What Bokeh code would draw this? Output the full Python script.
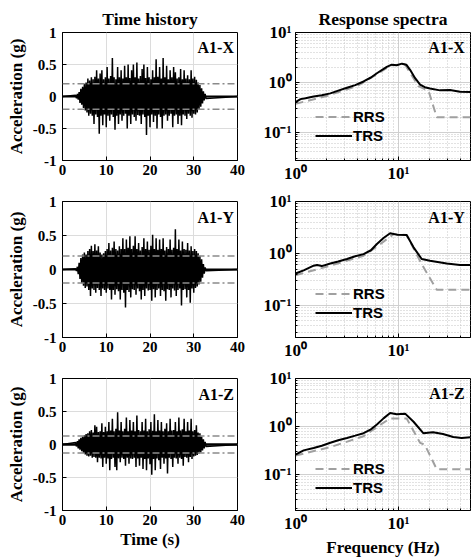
import numpy as np
from bokeh.plotting import figure
from bokeh.layouts import column, row
from bokeh.models import (Range1d, FixedTicker, CustomJSTickFormatter, Legend,
                          LegendItem, Label, Span)
from bokeh.embed import file_html
from bokeh.resources import INLINE

# ---------------- data ----------------
components = ["A1-X", "A1-Y", "A1-Z"]
th_start = 3.0      # first peak time (s)
th_step = 0.4       # spacing between successive positive peaks (s)
th_end = 40.0
thresholds = [0.2, 0.2, 0.13]

pos_x = [0.02, 0.04, 0.07, 0.12, 0.15, 0.20, 0.22, 0.28, 0.25, 0.30,
         0.27, 0.31, 0.41, 0.28, 0.36, 0.41, 0.27, 0.30, 0.46, 0.28,
         0.32, 0.60, 0.30, 0.27, 0.46, 0.30, 0.41, 0.28, 0.48, 0.30,
         0.50, 0.29, 0.41, 0.50, 0.30, 0.53, 0.28, 0.32, 0.43, 0.50,
         0.29, 0.46, 0.30, 0.27, 0.41, 0.30, 0.58, 0.31, 0.46, 0.28,
         0.60, 0.30, 0.48, 0.27, 0.41, 0.30, 0.46, 0.38, 0.28, 0.30,
         0.43, 0.27, 0.41, 0.28, 0.33, 0.27, 0.41, 0.28, 0.31, 0.26,
         0.22, 0.18, 0.13, 0.08, 0.04]
neg_x = [-0.03, -0.05, -0.10, -0.13, -0.18, -0.22, -0.25, -0.30, -0.27, -0.30,
         -0.43, -0.28, -0.32, -0.58, -0.30, -0.45, -0.28, -0.48, -0.30, -0.38,
         -0.28, -0.32, -0.52, -0.30, -0.43, -0.28, -0.38, -0.30, -0.27, -0.50,
         -0.30, -0.43, -0.28, -0.32, -0.38, -0.29, -0.30, -0.43, -0.28, -0.32,
         -0.60, -0.30, -0.48, -0.28, -0.40, -0.30, -0.50, -0.28, -0.32, -0.50,
         -0.30, -0.28, -0.38, -0.30, -0.27, -0.48, -0.30, -0.28, -0.43, -0.30,
         -0.45, -0.28, -0.30, -0.35, -0.27, -0.30, -0.33, -0.27, -0.28, -0.25,
         -0.20, -0.16, -0.11, -0.06, -0.03]

pos_y = [0.01, 0.04, 0.10, 0.17, 0.22, 0.25, 0.22, 0.27, 0.30, 0.35,
         0.27, 0.37, 0.28, 0.34, 0.25, 0.22, 0.24, 0.27, 0.30, 0.39,
         0.28, 0.32, 0.41, 0.30, 0.28, 0.34, 0.30, 0.46, 0.30, 0.44,
         0.32, 0.49, 0.30, 0.35, 0.49, 0.30, 0.39, 0.28, 0.33, 0.46,
         0.30, 0.41, 0.29, 0.35, 0.51, 0.30, 0.46, 0.29, 0.44, 0.30,
         0.46, 0.28, 0.33, 0.30, 0.44, 0.29, 0.32, 0.59, 0.30, 0.44,
         0.28, 0.41, 0.30, 0.29, 0.39, 0.28, 0.34, 0.27, 0.30, 0.27,
         0.24, 0.20, 0.15, 0.08, 0.03]
neg_y = [-0.02, -0.07, -0.14, -0.20, -0.24, -0.27, -0.25, -0.30, -0.39, -0.28,
         -0.30, -0.34, -0.27, -0.30, -0.39, -0.28, -0.30, -0.34, -0.28, -0.30,
         -0.44, -0.30, -0.37, -0.29, -0.32, -0.44, -0.30, -0.34, -0.56, -0.30,
         -0.33, -0.41, -0.29, -0.30, -0.37, -0.28, -0.32, -0.44, -0.30, -0.39,
         -0.28, -0.31, -0.30, -0.46, -0.29, -0.41, -0.30, -0.28, -0.39, -0.30,
         -0.32, -0.46, -0.29, -0.30, -0.41, -0.28, -0.31, -0.39, -0.30, -0.28,
         -0.53, -0.30, -0.29, -0.41, -0.30, -0.49, -0.28, -0.34, -0.27, -0.25,
         -0.22, -0.18, -0.12, -0.06, -0.02]

pos_z = [0.03, 0.05, 0.08, 0.10, 0.12, 0.14, 0.16, 0.17, 0.20, 0.22,
         0.18, 0.29, 0.27, 0.19, 0.20, 0.32, 0.19, 0.27, 0.20, 0.34,
         0.21, 0.39, 0.20, 0.24, 0.49, 0.21, 0.34, 0.20, 0.24, 0.41,
         0.20, 0.37, 0.21, 0.34, 0.20, 0.44, 0.22, 0.20, 0.34, 0.21,
         0.39, 0.20, 0.23, 0.34, 0.21, 0.46, 0.20, 0.37, 0.21, 0.34,
         0.20, 0.24, 0.32, 0.20, 0.39, 0.21, 0.22, 0.34, 0.20, 0.41,
         0.21, 0.23, 0.39, 0.20, 0.34, 0.21, 0.39, 0.20, 0.22, 0.29,
         0.18, 0.17, 0.12, 0.08, 0.04]
neg_z = [-0.03, -0.06, -0.08, -0.10, -0.13, -0.15, -0.17, -0.18, -0.17, -0.20,
         -0.19, -0.20, -0.27, -0.20, -0.21, -0.34, -0.20, -0.29, -0.21, -0.39,
         -0.22, -0.20, -0.34, -0.39, -0.21, -0.27, -0.20, -0.22, -0.32, -0.20,
         -0.29, -0.21, -0.22, -0.20, -0.34, -0.21, -0.32, -0.20, -0.37, -0.22,
         -0.39, -0.21, -0.30, -0.46, -0.22, -0.39, -0.21, -0.24, -0.37, -0.20,
         -0.29, -0.21, -0.44, -0.20, -0.22, -0.34, -0.20, -0.21, -0.29, -0.20,
         -0.22, -0.32, -0.19, -0.20, -0.27, -0.19, -0.22, -0.18, -0.17, -0.16,
         -0.14, -0.12, -0.09, -0.06, -0.03]

# response spectra (frequency Hz, spectral acceleration g)
trs_x_f = [1.0, 1.12, 1.25, 1.5, 1.8, 2.18, 2.6, 3.16, 3.8, 4.58, 5.4, 6.17,
           7.0, 7.7, 8.6, 9.6, 10.8, 11.9, 13.0, 14.5, 16.2, 18.0, 20.2, 25.3,
           31.6, 39.5, 50.0]
trs_x_a = [0.40, 0.46, 0.48, 0.52, 0.55, 0.60, 0.68, 0.78, 0.88, 1.04, 1.25, 1.52,
           1.80, 2.04, 2.26, 2.20, 2.37, 2.26, 1.76, 1.21, 0.90, 0.80, 0.75, 0.69,
           0.70, 0.65, 0.64]
rrs_x_f = [1.0, 2.0, 4.0, 6.0, 8.5, 11.5, 15.6, 19.6, 23.5, 50.0]
rrs_x_a = [0.37, 0.53, 0.85, 1.40, 2.20, 2.30, 0.84, 0.67, 0.20, 0.20]

trs_y_f = [1.0, 1.2, 1.5, 1.62, 1.8, 2.18, 2.6, 3.16, 3.8, 4.58, 5.4, 6.17,
           7.2, 8.3, 9.6, 12.0, 14.0, 16.8, 20.2, 29.4, 39.5, 50.0]
trs_y_a = [0.41, 0.47, 0.58, 0.60, 0.57, 0.64, 0.70, 0.78, 0.88, 0.97, 1.15, 1.52,
           2.00, 2.44, 2.30, 2.26, 1.31, 0.78, 0.72, 0.64, 0.60, 0.60]
rrs_y_f = [1.0, 2.18, 4.58, 6.17, 9.0, 12.0, 16.8, 23.5, 50.0]
rrs_y_a = [0.38, 0.58, 0.90, 1.35, 2.37, 2.26, 0.62, 0.20, 0.20]

trs_z_f = [1.0, 1.2, 1.5, 1.8, 2.18, 2.6, 3.16, 3.8, 4.58, 5.4, 6.17, 7.2,
           8.3, 9.6, 11.6, 14.0, 17.4, 21.6, 27.0, 34.0, 41.0, 50.0]
trs_z_a = [0.26, 0.32, 0.36, 0.40, 0.46, 0.52, 0.58, 0.65, 0.73, 0.88, 1.11, 1.50,
           1.92, 1.80, 1.86, 1.26, 0.73, 0.76, 0.70, 0.61, 0.58, 0.60]
rrs_z_f = [1.0, 2.18, 4.58, 6.6, 8.3, 12.0, 16.2, 18.0, 23.5, 50.0]
rrs_z_a = [0.25, 0.375, 0.63, 1.08, 1.48, 1.48, 0.46, 0.42, 0.13, 0.13]

rs_ymin = [0.027, 0.024, 0.018]

pos_all = [pos_x, pos_y, pos_z]
neg_all = [neg_x, neg_y, neg_z]
trs_all = [(trs_x_f, trs_x_a), (trs_y_f, trs_y_a), (trs_z_f, trs_z_a)]
rrs_all = [(rrs_x_f, rrs_x_a), (rrs_y_f, rrs_y_a), (rrs_z_f, rrs_z_a)]

# ---------------- style ----------------
SERIF = "Liberation Serif"
SANS = "Liberation Sans"
GRID = "#dcdcdc"
row_h = [185, 177, 197]
top_b = [32, 16, 16]
bot_b = [21, 24, 46]
LW, RW = 258, 216

def th_series(pos, neg):
    t, a = [0.0], [0.0]
    for k, (pv, nv) in enumerate(zip(pos, neg)):
        t += [th_start + th_step * k, th_start + th_step * k + th_step / 2]
        a += [pv, nv]
    t.append(th_end)
    a.append(0.0)
    return t, a

def style_axes(p, tick_size="15px"):
    for ax in p.axis:
        ax.major_label_text_font = SERIF
        ax.major_label_text_font_style = "bold"
        ax.major_label_text_font_size = tick_size
        ax.major_label_text_color = "black"
        ax.axis_label_text_font = SERIF
        ax.axis_label_text_font_style = "bold"
        ax.axis_label_text_font_size = "17px"
        ax.axis_label_text_color = "black"
        ax.axis_line_color = "black"
        ax.major_tick_line_color = "black"
        ax.minor_tick_line_color = "black"
        ax.major_tick_in = 4
        ax.major_tick_out = 0
        ax.minor_tick_in = 2
        ax.minor_tick_out = 0
    p.outline_line_color = "black"
    p.outline_line_alpha = 1.0
    p.background_fill_color = "white"
    p.border_fill_color = "white"

def style_title(p, text):
    p.title.text = text
    p.title.align = "center"
    p.title.text_font = SERIF
    p.title.text_font_style = "bold"
    p.title.text_font_size = "17.5px"
    p.title.text_color = "black"
    p.title.standoff = 8

log_fmt = CustomJSTickFormatter(code="""
const e = Math.round(Math.log10(tick));
const sup = {"0": "\\u2070", "1": "\\u00b9", "2": "\\u00b2", "3": "\\u00b3", "-": "\\u207b"};
return "10" + String(e).split("").map(c => sup[c]).join("");
""")
lin_fmt = CustomJSTickFormatter(code="return String(tick);")

rows = []
for i, comp in enumerate(components):
    # ---- time history ----
    pl = figure(width=LW, height=row_h[i], output_backend="svg", toolbar_location=None,
                x_range=Range1d(0, 40), y_range=Range1d(-1, 1),
                min_border_left=62, min_border_right=LW - 62 - 175,
                min_border_top=top_b[i], min_border_bottom=bot_b[i])
    t, a = th_series(pos_all[i], neg_all[i])
    pl.line(t, a, line_color="black", line_width=1.5)
    pl.add_layout(Span(location=0, dimension="width", line_color="black",
                       line_width=2.5 if i == 2 else 1.8))
    for s in (1, -1):
        pl.add_layout(Span(location=s * thresholds[i], dimension="width",
                           line_color="#8a8a8a", line_width=1.5, line_dash="7 3 2 3"))
    xt = FixedTicker(ticks=[0, 10, 20, 30, 40])
    yt = FixedTicker(ticks=[-1, -0.5, 0, 0.5, 1])
    pl.xaxis.ticker = xt
    pl.xgrid.ticker = xt
    pl.yaxis.ticker = yt
    pl.ygrid.ticker = yt
    pl.yaxis.formatter = lin_fmt
    pl.xaxis.major_label_standoff = 4
    pl.yaxis.major_label_standoff = 6
    pl.yaxis.axis_label = "Acceleration (g)"
    pl.yaxis.axis_label_standoff = 4
    for g in (pl.xgrid, pl.ygrid):
        g.grid_line_color = GRID
        g.grid_line_width = 1
    pl.add_layout(Label(x=39.2, y=0.76, text=comp, text_align="right",
                        text_baseline="middle", text_font=SERIF,
                        text_font_style="bold", text_font_size="16px",
                        text_color="black"))
    if i == 2:
        pl.xaxis.axis_label = "Time (s)"
        pl.xaxis.axis_label_standoff = 2
    if i == 0:
        style_title(pl, "Time history")
    style_axes(pl)

    # ---- response spectra ----
    pr = figure(width=RW, height=row_h[i], output_backend="svg", toolbar_location=None,
                x_axis_type="log", y_axis_type="log",
                x_range=Range1d(1, 50), y_range=Range1d(rs_ymin[i], 10),
                min_border_left=37, min_border_right=RW - 37 - 175,
                min_border_top=top_b[i], min_border_bottom=bot_b[i])
    rf, ra = rrs_all[i]
    tf, ta = trs_all[i]
    r_rrs = pr.line(rf, ra, line_color="#a0a0a0", line_width=2, line_dash="8 5")
    r_trs = pr.line(tf, ta, line_color="black", line_width=2)
    xminor = [2, 3, 4, 5, 6, 7, 8, 9, 20, 30, 40]
    yminor = [v for v in [0.02, 0.03, 0.04, 0.05, 0.06, 0.07, 0.08, 0.09,
                          0.2, 0.3, 0.4, 0.5, 0.6, 0.7, 0.8, 0.9,
                          2, 3, 4, 5, 6, 7, 8, 9] if v > rs_ymin[i]]
    lxt = FixedTicker(ticks=[1, 10], minor_ticks=xminor)
    lyt = FixedTicker(ticks=[0.1, 1, 10], minor_ticks=yminor)
    pr.xaxis.ticker = lxt
    pr.xgrid.ticker = lxt
    pr.yaxis.ticker = lyt
    pr.ygrid.ticker = lyt
    pr.xaxis.formatter = log_fmt
    pr.yaxis.formatter = log_fmt
    pr.xaxis.major_label_standoff = 3
    pr.yaxis.major_label_standoff = 4
    for g in (pr.xgrid, pr.ygrid):
        g.grid_line_color = "#d0d0d0"
        g.grid_line_width = 1
        g.minor_grid_line_color = "#c4c4c4"
        g.minor_grid_line_dash = "1 2"
        g.minor_grid_line_width = 1
    pr.add_layout(Label(x=44, y=4.9, text=comp, text_align="right",
                        text_baseline="middle", text_font=SERIF,
                        text_font_style="bold", text_font_size="16px",
                        text_color="black"))
    leg = Legend(items=[LegendItem(label="RRS", renderers=[r_rrs]),
                        LegendItem(label="TRS", renderers=[r_trs])],
                 location=(20, 13 if i == 2 else 15), padding=0, margin=0, spacing=0,
                 glyph_width=37, glyph_height=19, label_height=19, label_standoff=1,
                 label_text_font=SANS, label_text_font_style="bold",
                 label_text_font_size="15px", label_text_color="black",
                 border_line_color=None, background_fill_alpha=0)
    pr.add_layout(leg)
    if i == 2:
        pr.xaxis.axis_label = "Frequency (Hz)"
        pr.xaxis.axis_label_standoff = 2
    if i == 0:
        style_title(pr, "Response spectra")
    style_axes(pr, tick_size="17px")

    rows.append(row(pl, pr))

layout = column(*rows)
open("out.html", "w", encoding="utf-8").write(file_html(layout, INLINE))
